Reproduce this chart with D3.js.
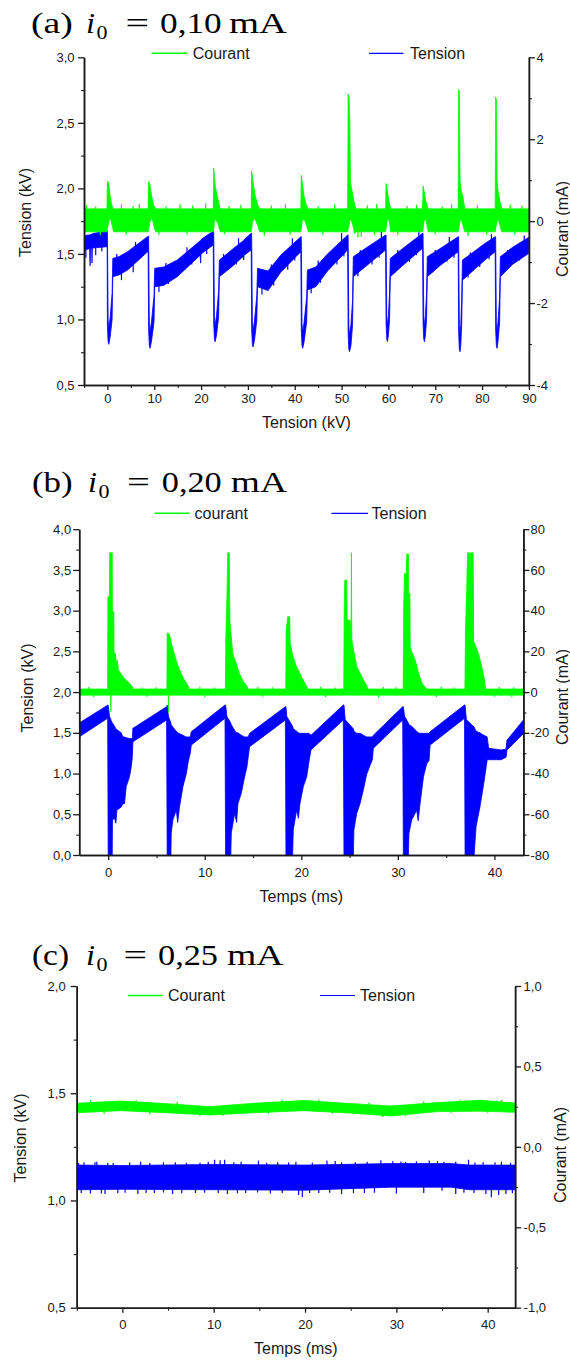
<!DOCTYPE html>
<html><head><meta charset="utf-8">
<script src="https://cdn.jsdelivr.net/npm/d3@7"></script>
<style>body{margin:0;background:#fff}svg{display:block}</style>
</head><body><svg id="c" width="570" height="1361"></svg>
<script>
// ===================== DATA =====================
// ---- Panel (a) ----
const aTitle = ["(a)", "i", "0", "=", "0,10", "mA"];
const aLegend = ["Courant", "Tension"];
const aXLabel = "Tension (kV)";
const aYLabelL = "Tension (kV)";
const aYLabelR = "Courant (mA)";
const aXTicks = [0,10,20,30,40,50,60,70,80,90];
const aXMinor = [-5,5,15,25,35,45,55,65,75,85];
const aLeftTicks = [0.5,1.0,1.5,2.0,2.5,3.0];
const aLeftMinor = [0.75,1.25,1.75,2.25,2.75];
const aRightTicks = [-4,-2,0,2,4];
const aRightMinor = [-3,-1,1,3];
// [time, low, high] envelope of the Tension trace (kV)
const aTension = [
 [-5,1.53,1.64],[-3.8,1.54,1.645],[-3.7,1.41,1.645],[-3.6,1.54,1.65],[-3.35,1.54,1.65],[-3.3,1.43,1.65],[-3.2,1.545,1.655],[-0.05,1.555,1.675],
 [0.0,0.95,1.675],[0.15,0.83,1.0],[0.3,0.81,0.93],[0.6,0.87,1.02],[1.0,1.0,1.2],[1.15,1.326,1.466],
 [2.5,1.34,1.48],[4.3,1.377,1.517],[8.7,1.52,1.635],
 [8.8,0.92,1.635],[8.95,0.8,0.97],[9.1,0.78,0.9],[9.4,0.83,0.98],[9.95,0.98,1.18],[10.1,1.25,1.39],
 [12.0,1.26,1.40],[14.9,1.326,1.453],[19.8,1.49,1.6],[19.9,1.43,1.6],[20.0,1.5,1.61],[22.6,1.568,1.675],
 [22.7,0.97,1.675],[22.85,0.85,1.02],[23.0,0.83,0.95],[23.3,0.88,1.03],[23.75,1.02,1.22],[23.9,1.326,1.453],
 [26.5,1.40,1.53],[29.0,1.48,1.6],[29.1,1.453,1.6],[29.2,1.49,1.61],[30.7,1.53,1.657],
 [30.8,0.93,1.657],[30.95,0.81,0.98],[31.1,0.79,0.91],[31.4,0.84,0.99],[31.9,0.99,1.18],[32.05,1.25,1.39],
 [34.3,1.22,1.37],[37.0,1.36,1.49],[41.3,1.517,1.631],
 [41.4,0.92,1.631],[41.55,0.8,0.97],[41.7,0.78,0.9],[42.0,0.83,0.98],[42.55,0.98,1.17],[42.7,1.225,1.377],
 [44.5,1.25,1.40],[47.0,1.37,1.5],[51.3,1.53,1.644],
 [51.4,0.9,1.644],[51.55,0.77,0.95],[51.7,0.754,0.88],[52.0,0.8,0.96],[52.35,0.96,1.15],[52.5,1.326,1.479],
 [55.0,1.40,1.54],[59.4,1.53,1.644],
 [59.5,0.97,1.644],[59.65,0.85,1.02],[59.8,0.83,0.95],[60.0,0.88,1.03],[60.25,1.0,1.2],[60.4,1.326,1.466],
 [63.0,1.41,1.54],[67.3,1.543,1.657],
 [67.4,0.97,1.657],[67.55,0.85,1.02],[67.7,0.83,0.95],[67.9,0.88,1.03],[68.15,1.0,1.2],[68.3,1.326,1.479],
 [71.0,1.41,1.54],[74.9,1.517,1.631],
 [75.0,0.9,1.631],[75.15,0.77,0.95],[75.3,0.754,0.88],[75.45,0.8,0.96],[75.65,0.96,1.15],[75.8,1.30,1.453],
 [78.0,1.37,1.51],[80.6,1.453,1.58],[82.8,1.517,1.631],
 [82.9,0.92,1.631],[83.05,0.8,0.97],[83.2,0.78,0.9],[83.4,0.83,0.98],[83.75,0.98,1.17],[83.9,1.326,1.479],
 [86.5,1.42,1.55],[90.0,1.505,1.627]
];
// [time, value] visible noise spikes of the Tension trace (kV)
const aTensionNoise = [
 [-4.6,1.47],[-2.5,1.49],[-1.2,1.52],[3.0,1.30],[5.5,1.36],[7.2,1.47],[11.0,1.21],[13.0,1.27],[16.5,1.38],[18.0,1.42],
 [21.2,1.50],[25.0,1.36],[27.5,1.42],[33.0,1.19],[35.5,1.26],[38.5,1.38],[40.0,1.45],[43.5,1.20],[45.5,1.28],[49.0,1.42],
 [50.5,1.48],[53.5,1.33],[56.5,1.42],[58.0,1.47],[61.5,1.36],[64.5,1.44],[66.0,1.49],[69.5,1.36],[72.5,1.44],[74.0,1.47],
 [77.0,1.32],[79.5,1.40],[81.5,1.46],[85.0,1.37],[88.0,1.45],
 [2.0,1.50],[6.0,1.59],[12.5,1.43],[17.0,1.55],[24.8,1.50],[28.0,1.62],[35.0,1.42],[39.5,1.62],[45.0,1.45],[50.0,1.66],
 [54.0,1.53],[58.5,1.67],[62.0,1.53],[66.5,1.67],[70.0,1.53],[73.0,1.63],[77.5,1.51],[82.0,1.65],[85.5,1.53],[89.0,1.64]
];
// [time, low, high] envelope of the Courant trace (mA)
const aCourant = [
 [-5,-0.26,0.30],[-0.1,-0.26,0.30],
 [0.0,-0.2,0.98],[0.3,0.0,0.9],[0.6,0.08,0.6],[1.0,-0.1,0.36],[1.3,-0.26,0.30],
 [8.7,-0.26,0.30],[8.8,-0.2,0.98],[9.1,0.0,0.88],[9.5,0.08,0.58],[9.9,-0.1,0.38],[10.3,-0.26,0.30],
 [22.6,-0.26,0.30],[22.7,-0.2,1.30],[22.85,0.0,1.1],[23.05,0.05,0.84],[23.55,-0.05,0.56],[24.1,-0.26,0.30],
 [30.7,-0.26,0.30],[30.8,-0.2,1.22],[31.0,0.0,1.05],[31.5,0.05,0.65],[32.1,-0.1,0.4],[32.5,-0.26,0.30],
 [41.3,-0.26,0.30],[41.4,-0.2,1.12],[41.6,0.0,0.95],[42.0,0.05,0.6],[42.5,-0.1,0.38],[42.9,-0.26,0.30],
 [51.3,-0.26,0.30],[51.4,-0.2,3.10],[51.6,-0.1,3.05],[51.75,0.0,2.5],[51.9,0.05,0.95],[52.3,-0.05,0.7],[52.8,-0.3,0.4],[53.1,-0.26,0.30],
 [59.4,-0.26,0.30],[59.5,-0.2,0.92],[59.7,0.0,0.8],[60.1,0.05,0.5],[60.5,-0.26,0.30],
 [67.3,-0.26,0.30],[67.4,-0.2,0.86],[67.6,0.0,0.75],[68.0,0.05,0.48],[68.5,-0.26,0.30],
 [74.9,-0.26,0.30],[75.0,-0.2,3.22],[75.15,-0.1,3.15],[75.3,0.0,1.0],[75.5,0.05,0.76],[75.9,-0.1,0.6],[76.3,-0.26,0.30],
 [82.8,-0.26,0.30],[82.9,-0.2,3.03],[83.05,-0.1,2.95],[83.2,0.0,1.0],[83.4,0.05,0.75],[83.8,-0.1,0.5],[84.2,-0.26,0.30],
 [90,-0.26,0.30]
];
// [time, value] visible noise spikes of the Courant trace (mA)
const aCourantNoise = [
 [-4.5,0.38],[-2.5,0.36],[3.0,0.40],[5.5,0.37],[6.8,0.42],[12.5,0.36],[15.5,0.41],[18.2,0.38],[21.0,0.44],
 [26.0,0.37],[28.5,0.40],[35.0,0.38],[38.0,0.41],[45.0,0.36],[48.5,0.40],[55.5,0.38],[57.5,0.42],[64.0,0.37],
 [66.0,0.40],[71.5,0.36],[73.5,0.41],[79.0,0.38],[86.0,0.40],[88.5,0.37],
 [-1.5,-0.33],[4.0,-0.32],[11.0,-0.34],[17.0,-0.33],[25.0,-0.32],[33.5,-0.35],[39.0,-0.33],[46.0,-0.34],
 [53.5,-0.40],[54.2,-0.38],[57.0,-0.33],[62.0,-0.34],[70.0,-0.32],[77.0,-0.36],[81.0,-0.33],[87.0,-0.34]
];

// ---- Panel (b) ----
const bTitle = ["(b)", "i", "0", "=", "0,20", "mA"];
const bLegend = ["courant", "Tension"];
const bXLabel = "Temps (ms)";
const bYLabelL = "Tension (kV)";
const bYLabelR = "Courant (mA)";
const bXTicks = [0,10,20,30,40];
const bXMinor = [5,15,25,35];
const bLeftTicks = [0.0,0.5,1.0,1.5,2.0,2.5,3.0,3.5,4.0];
const bLeftMinor = [0.25,0.75,1.25,1.75,2.25,2.75,3.25,3.75];
const bRightTicks = [-80,-60,-40,-20,0,20,40,60,80];
const bRightMinor = [-70,-50,-30,-10,10,30,50,70];
const bTension = [
 [-3,1.45,1.62],[-0.05,1.68,1.84],
 [0.0,0.0,1.84],[0.15,0.0,1.70],[0.42,0.0,1.62],[0.45,0.43,1.62],[0.66,0.45,1.58],[0.8,0.39,1.55],[0.9,0.55,1.54],
 [1.35,0.59,1.50],[1.52,0.63,1.45],[1.69,0.63,1.45],[1.87,0.84,1.44],[2.21,0.96,1.43],[2.39,1.08,1.43],[2.5,1.20,1.43],
 [2.56,1.39,1.555],[6.05,1.657,1.821],
 [6.11,0.0,1.84],[6.25,0.0,1.70],[6.5,0.0,1.62],[6.53,0.27,1.60],[6.7,0.43,1.57],[7.05,0.55,1.52],[7.2,0.40,1.50],
 [7.39,0.59,1.49],[7.74,0.84,1.47],[8.08,0.99,1.45],[8.3,1.15,1.45],[8.5,1.25,1.45],
 [8.61,1.35,1.514],[12.1,1.678,1.842],
 [12.16,0.0,1.842],[12.3,0.0,1.70],[12.7,0.0,1.62],[12.75,0.27,1.60],[13.1,0.51,1.53],[13.3,0.40,1.50],[13.44,0.63,1.50],
 [13.79,0.76,1.47],[14.13,0.96,1.45],[14.37,1.08,1.45],[14.5,1.20,1.45],
 [14.65,1.33,1.494],[18.35,1.657,1.821],
 [18.41,0.0,1.821],[18.5,0.0,1.70],[19.1,0.0,1.58],[19.17,0.31,1.55],[19.52,0.55,1.52],[19.7,0.45,1.50],[19.86,0.63,1.494],
 [20.21,0.84,1.494],[20.56,0.96,1.494],[20.8,1.15,1.494],
 [21.0,1.29,1.47],[24.35,1.657,1.842],
 [24.42,0.0,1.842],[24.55,0.0,1.66],[25.39,0.0,1.55],[25.45,0.31,1.52],[25.74,0.51,1.494],[26.08,0.63,1.494],
 [26.43,0.80,1.47],[26.77,0.99,1.45],[27.12,1.10,1.45],[27.36,1.17,1.45],
 [27.46,1.31,1.47],[30.5,1.657,1.821],
 [30.57,0.0,1.821],[30.7,0.0,1.70],[31.09,0.0,1.62],[31.15,0.27,1.60],[31.43,0.43,1.58],[31.95,0.55,1.52],[32.1,0.42,1.50],
 [32.3,0.63,1.494],[32.65,0.96,1.494],[32.99,1.12,1.494],[33.23,1.16,1.494],
 [33.34,1.35,1.514],[36.9,1.678,1.842],
 [36.96,0.0,1.842],[37.1,0.0,1.66],[37.9,0.0,1.57],[38.1,0.35,1.52],[38.5,0.59,1.50],[38.9,0.88,1.47],[39.25,1.17,1.45],
 [39.4,1.17,1.31],[40.7,1.17,1.29],[41.2,1.20,1.30],[41.3,1.29,1.41],[43.0,1.49,1.657]
];
const bCourant = [
 [-3,-1.5,1.5],[-0.05,-1.5,1.5],
 [-0.03,-1.5,46.8],[0.14,-1.5,46.8],[0.16,-1.5,68.4],[0.26,-1.5,68.4],[0.28,-9.6,68.4],[0.3,-1.5,68.4],[0.42,-1.5,68.4],
 [0.44,-1.5,39.5],[0.59,-1.5,39.5],[0.61,-1.5,19],[0.76,-1.5,19],[0.85,-1.5,14],[0.95,-1.5,15.8],[1.05,-1.5,11],
 [1.2,-1.5,10],[1.52,-1.5,7.6],[1.87,-1.5,5.9],[2.21,-1.5,4.3],[2.49,-1.5,2.7],[2.6,-1.5,1.5],
 [6.08,-1.5,1.5],[6.11,-1.5,28.9],[6.23,-1.5,28.9],[6.25,-10,28.9],[6.27,-1.5,28.9],[6.43,-1.5,27],[6.6,-1.5,23],
 [6.9,-1.5,18],[7.22,-1.5,13],[7.55,-1.5,9.2],[7.9,-1.5,5.9],[8.25,-1.5,3.5],[8.36,-1.5,1.5],
 [12.14,-1.5,1.5],[12.18,-1.5,25.6],[12.3,-1.5,46.8],[12.38,-1.5,68.4],[12.55,-1.5,68.4],[12.6,-1.5,35],[12.75,-1.5,27.2],
 [12.9,-1.5,19],[13.27,-1.5,14],[13.6,-1.5,9],[13.96,-1.5,5.5],[14.3,-1.5,3.5],[14.48,-1.5,1.5],
 [18.39,-1.5,1.5],[18.43,-1.5,29.6],[18.6,-1.5,37],[18.8,-1.5,37],[18.85,-1.5,24],[19.1,-1.5,18.2],[19.5,-1.5,12.5],
 [19.85,-1.5,9.2],[20.2,-1.5,5.9],[20.55,-1.5,2.7],[20.7,-1.5,1.5],
 [24.4,-1.5,1.5],[24.44,-1.5,40],[24.5,-1.5,55],[24.7,-1.5,55],[24.75,-1.5,35.4],[25.05,-1.5,35.4],[25.15,-1.5,28],
 [25.19,-1.5,68.4],[25.23,-1.5,26],[25.4,-1.5,20.7],[25.75,-1.5,12.5],[26.1,-1.5,9.2],[26.45,-1.5,5.9],[26.8,-1.5,3],[26.88,-1.5,1.5],
 [30.55,-1.5,1.5],[30.6,-1.5,40],[30.68,-1.5,58.3],[30.9,-1.5,58.3],[30.92,-1.5,67.8],[31.1,-1.5,67.8],[31.12,-1.5,48.6],
 [31.25,-1.5,48.6],[31.28,-1.5,22.3],[31.43,-1.5,19.9],[31.8,-1.5,15.8],[32.15,-1.5,9.2],[32.5,-1.5,4.3],[33.0,-1.5,1.5],
 [36.94,-1.5,1.5],[37.0,-1.5,30],[37.14,-1.5,51.8],[37.22,-1.5,68.4],[37.4,-1.5,68.4],[37.45,-1.5,52],[37.5,-1.5,68.4],
 [37.8,-1.5,68.4],[37.85,-1.5,25],[38.35,-1.5,19],[38.6,-1.5,14],[38.9,-1.5,8],[39.05,-1.5,3],[39.1,-1.5,1.5],
 [43,-1.5,1.5]
];
const bCourantNoise = [
 [-2,2.5],[3.5,2.3],[5,2.4],[9.5,2.6],[11,2.3],[15.5,2.5],[17,2.4],[22,2.6],[23.5,2.3],[28.5,2.5],[29.8,2.4],
 [34.5,2.6],[35.8,2.3],[40.5,2.5],[42,2.4],
 [-1.5,-2.4],[4,-2.3],[10,-2.5],[16,-2.3],[22.5,-2.4],[28,-2.6],[34,-2.4],[40,-2.3],[41.8,-2.5]
];

// ---- Panel (c) ----
const cTitle = ["(c)", "i", "0", "=", "0,25", "mA"];
const cLegend = ["Courant", "Tension"];
const cXLabel = "Temps (ms)";
const cYLabelL = "Tension (kV)";
const cYLabelR = "Courant (mA)";
const cXTicks = [0,10,20,30,40];
const cXMinor = [-5,5,15,25,35];
const cLeftTicks = [0.5,1.0,1.5,2.0];
const cLeftMinor = [0.75,1.25,1.75];
const cRightTicks = [-1.0,-0.5,0.0,0.5,1.0];
const cRightMinor = [-0.75,-0.25,0.25,0.75];
const cTension = [
 [-5,1.05,1.165],[0,1.052,1.163],[10,1.05,1.168],[20,1.048,1.165],[29.5,1.062,1.172],[36,1.062,1.172],[38,1.05,1.165],[43,1.05,1.165]
];
const cTensionNoise = [
 [-4.2,1.178],[-2.8,1.18],[-1.0,1.175],[2.0,1.18],[4.5,1.178],[7.0,1.176],[10.1,1.19],[10.7,1.188],[11.2,1.19],
 [13.0,1.18],[14.9,1.186],[17.0,1.178],[19.0,1.18],[22.4,1.186],[23.3,1.184],[25.5,1.178],[28.3,1.188],[31.0,1.18],
 [33.6,1.186],[35.2,1.18],[37.9,1.19],[39.5,1.178],[41.5,1.18],
 [-4.8,1.175],[-3.0,1.178],[-1.6,1.176],[0.8,1.177],[3.0,1.175],[5.8,1.178],[8.5,1.176],[9.4,1.18],[12.2,1.178],
 [15.8,1.176],[18.2,1.177],[20.8,1.176],[24.0,1.178],[26.8,1.18],[29.6,1.183],[30.5,1.182],[32.2,1.182],[34.5,1.183],
 [36.5,1.181],[38.6,1.177],[40.8,1.178],[42.5,1.176],
 [-3.5,1.032],[-1.9,1.03],[-0.5,1.035],[1.7,1.03],[3.5,1.035],[5.5,1.03],[8.0,1.035],[11.5,1.03],[13.5,1.035],
 [16.2,1.033],[19.7,1.015],[21.5,1.035],[24.0,1.03],[26.5,1.035],[30.0,1.033],[33.0,1.035],[36.5,1.03],[38.5,1.035],
 [40.4,1.015],[42.0,1.03],
 [-4.5,1.035],[-2.3,1.033],[0.3,1.036],[2.6,1.035],[4.5,1.037],[6.5,1.034],[9.0,1.036],[10.5,1.035],[12.6,1.034],
 [14.8,1.037],[17.5,1.035],[19.3,1.025],[20.5,1.035],[22.7,1.036],[25.3,1.034],[27.6,1.036],[35.0,1.045],[37.4,1.036],
 [39.8,1.03],[41.2,1.025],[42.7,1.034]
];
const cCourant = [
 [-5,0.212,0.271],[-0.2,0.225,0.285],[4.15,0.214,0.271],[9.6,0.198,0.250],[14.4,0.212,0.271],[19.9,0.225,0.288],
 [25.3,0.209,0.268],[29.4,0.192,0.254],[34.5,0.219,0.275],[39.2,0.222,0.29],[43,0.215,0.272]
];
const cCourantNoise = [
 [-3.5,0.29],[1.5,0.292],[6.0,0.28],[12.0,0.262],[17.5,0.293],[21.5,0.293],[27.0,0.276],[33.0,0.283],[37.0,0.293],[41.5,0.292],
 [-2.0,0.205],[3.0,0.203],[8.5,0.19],[11.0,0.192],[16.0,0.205],[23.0,0.205],[28.5,0.185],[31.0,0.19],[36.0,0.21],[40.0,0.212]
];

// ===================== DRAWING =====================
const BLUE = "#0000ff", GREEN = "#00ff00", INK = "#1a1a1a";
const SANS = "'Liberation Sans', Arial, sans-serif";
const SERIF = "'Liberation Serif', 'Times New Roman', serif";
const comma1 = d => d.toFixed(1).replace(".", ",");
const plain = d => String(d);
const svg = d3.select("#c");
svg.append("rect").attr("width", 570).attr("height", 1361).attr("fill", "#fff");

const panels = [
 {key:"a", left:84, right:528.9, top:57.3, bottom:385, xDomain:[-5,90], leftDomain:[0.5,3.0], rightDomain:[-4,4],
  xTicks:aXTicks, xMinor:aXMinor, leftTicks:aLeftTicks, leftMinor:aLeftMinor, rightTicks:aRightTicks, rightMinor:aRightMinor,
  leftFmt:comma1, rightFmt:plain, lpad:3.5, rpad:1.5, bpad:3.3,
  tension:aTension, tensionNoise:aTensionNoise, courant:aCourant, courantNoise:aCourantNoise,
  title:aTitle, titleY:33, titleX:[30.9,86,96.5,125.4,160,229], titleW:[41.8,9,11,23.6,61.7,58],
  legend:aLegend, legendY:53.3, legendX:[151.6,187.2,192.7,369,403.5,410],
  xLabel:aXLabel, xLabelY:428, yLabelL:aYLabelL, yLL:[31,212.5], yLabelR:aYLabelR, yLR:[567.5,229]},
 {key:"b", left:79.2, right:523.4, top:529.2, bottom:855, xDomain:[-3,43], leftDomain:[0,4], rightDomain:[-80,80],
  xTicks:bXTicks, xMinor:bXMinor, leftTicks:bLeftTicks, leftMinor:bLeftMinor, rightTicks:bRightTicks, rightMinor:bRightMinor,
  leftFmt:comma1, rightFmt:plain, lpad:2, rpad:1, bpad:8,
  tension:bTension, courant:bCourant, courantNoise:bCourantNoise,
  title:bTitle, titleY:492, titleX:[32,88,98.5,127,161.8,230.8], titleW:[40.7,9,11,23,59.9,56.2],
  legend:bLegend, legendY:513.3, legendX:[154.5,189.7,194.5,331.5,368,371.5],
  xLabel:bXLabel, xLabelY:902, yLabelL:bYLabelL, yLL:[33,688], yLabelR:bYLabelR, yLR:[568,697]},
 {key:"c", left:76.7, right:515.1, top:986, bottom:1307.7, xDomain:[-5,43], leftDomain:[0.5,2.0], rightDomain:[-1,1],
  xTicks:cXTicks, xMinor:cXMinor, leftTicks:cLeftTicks, leftMinor:cLeftMinor, rightTicks:cRightTicks, rightMinor:cRightMinor,
  leftFmt:comma1, rightFmt:comma1, lpad:5, rpad:2.5, bpad:7.3,
  tension:cTension, tensionNoise:cTensionNoise, courant:cCourant, courantNoise:cCourantNoise,
  title:cTitle, titleY:965, titleX:[32,86,96.5,123.6,158,227], titleW:[37,9,11,23.6,60,56.5],
  legend:cLegend, legendY:995.5, legendX:[128,162.5,168,320,355,360],
  xLabel:cXLabel, xLabelY:1354, yLabelL:cYLabelL, yLL:[26,1138], yLabelR:cYLabelR, yLR:[566,1155]}
];

// middle of an envelope at time t (linear between listed points)
function midAt(env, t) {
  const i = d3.bisector(d => d[0]).right(env, t);
  if (i <= 0) return (env[0][1] + env[0][2]) / 2;
  if (i >= env.length) { const e = env[env.length - 1]; return (e[1] + e[2]) / 2; }
  const a = env[i - 1], b = env[i], f = (t - a[0]) / (b[0] - a[0]);
  return ((a[1] + a[2]) / 2) * (1 - f) + ((b[1] + b[2]) / 2) * f;
}

function styleAxis(sel, major) {
  sel.select(".domain").attr("stroke", INK).attr("stroke-width", 1.5);
  sel.selectAll(".tick line").attr("stroke", INK).attr("stroke-width", major ? 1.3 : 1.1);
  sel.selectAll(".tick text").attr("fill", INK).attr("font-family", SANS).attr("font-size", 13);
  sel.attr("font-family", null).attr("font-size", null);
}

panels.forEach(p => {
  const g = svg.append("g");
  const x = d3.scaleLinear().domain(p.xDomain).range([p.left, p.right]);
  const yL = d3.scaleLinear().domain(p.leftDomain).range([p.bottom, p.top]);
  const yR = d3.scaleLinear().domain(p.rightDomain).range([p.bottom, p.top]);

  const clipId = "clip-" + p.key;
  svg.append("clipPath").attr("id", clipId).append("rect")
    .attr("x", p.left).attr("y", p.top - 1).attr("width", p.right - p.left).attr("height", p.bottom - p.top + 1);
  const plot = g.append("g").attr("clip-path", `url(#${clipId})`);

  const areaT = d3.area().x(d => x(d[0])).y0(d => yL(d[1])).y1(d => yL(d[2]));
  const areaC = d3.area().x(d => x(d[0])).y0(d => yR(d[1])).y1(d => yR(d[2]));

  plot.append("path").datum(p.tension).attr("d", areaT)
    .attr("fill", BLUE).attr("stroke", BLUE).attr("stroke-width", 0.8).attr("stroke-linejoin", "round");
  if (p.tensionNoise) {
    plot.selectAll(null).data(p.tensionNoise).join("line")
      .attr("x1", d => x(d[0])).attr("x2", d => x(d[0]))
      .attr("y1", d => yL(midAt(p.tension, d[0]))).attr("y2", d => yL(d[1]))
      .attr("stroke", BLUE).attr("stroke-width", 1.2);
  }
  plot.append("path").datum(p.courant).attr("d", areaC)
    .attr("fill", GREEN).attr("stroke", GREEN).attr("stroke-width", 0.8).attr("stroke-linejoin", "round");
  if (p.courantNoise) {
    plot.selectAll(null).data(p.courantNoise).join("line")
      .attr("x1", d => x(d[0])).attr("x2", d => x(d[0]))
      .attr("y1", d => yR(midAt(p.courant, d[0]))).attr("y2", d => yR(d[1]))
      .attr("stroke", GREEN).attr("stroke-width", 1.2);
  }

  // axes
  const axL = g.append("g").attr("transform", `translate(${p.left},0)`)
    .call(d3.axisLeft(yL).tickValues(p.leftTicks).tickFormat(p.leftFmt).tickSize(6).tickSizeOuter(0).tickPadding(p.lpad));
  styleAxis(axL, true);
  const axLm = g.append("g").attr("transform", `translate(${p.left},0)`)
    .call(d3.axisLeft(yL).tickValues(p.leftMinor).tickFormat("").tickSize(3).tickSizeOuter(0));
  styleAxis(axLm, false);

  const axR = g.append("g").attr("transform", `translate(${p.right},0)`)
    .call(d3.axisRight(yR).tickValues(p.rightTicks).tickFormat(p.rightFmt).tickSize(6).tickSizeOuter(0).tickPadding(p.rpad));
  styleAxis(axR, true);
  const axRm = g.append("g").attr("transform", `translate(${p.right},0)`)
    .call(d3.axisRight(yR).tickValues(p.rightMinor).tickFormat("").tickSize(3).tickSizeOuter(0));
  styleAxis(axRm, false);

  const axB = g.append("g").attr("transform", `translate(0,${p.bottom})`)
    .call(d3.axisBottom(x).tickValues(p.xTicks).tickFormat(plain).tickSize(5).tickSizeOuter(0).tickPadding(p.bpad));
  styleAxis(axB, true);
  const axBm = g.append("g").attr("transform", `translate(0,${p.bottom})`)
    .call(d3.axisBottom(x).tickValues(p.xMinor).tickFormat("").tickSize(3).tickSizeOuter(0));
  styleAxis(axBm, false);

  // axis titles
  g.append("text").attr("x", (p.left + p.right) / 2).attr("y", p.xLabelY)
    .attr("text-anchor", "middle").attr("font-family", SANS).attr("font-size", 16).attr("fill", INK).text(p.xLabel);
  g.append("text").attr("transform", `translate(${p.yLL[0]},${p.yLL[1]}) rotate(-90)`)
    .attr("text-anchor", "middle").attr("font-family", SANS).attr("font-size", 16).attr("fill", INK).text(p.yLabelL);
  g.append("text").attr("transform", `translate(${p.yLR[0]},${p.yLR[1]}) rotate(-90)`)
    .attr("text-anchor", "middle").attr("font-family", SANS).attr("font-size", 16).attr("fill", INK).text(p.yLabelR);

  // legend
  const lx = p.legendX;
  g.append("line").attr("x1", lx[0]).attr("x2", lx[1]).attr("y1", p.legendY).attr("y2", p.legendY)
    .attr("stroke", GREEN).attr("stroke-width", 1.4);
  g.append("text").attr("x", lx[2]).attr("y", p.legendY + 5.5).attr("font-family", SANS).attr("font-size", 16)
    .attr("fill", INK).text(p.legend[0]);
  g.append("line").attr("x1", lx[3]).attr("x2", lx[4]).attr("y1", p.legendY).attr("y2", p.legendY)
    .attr("stroke", BLUE).attr("stroke-width", 1.2);
  g.append("text").attr("x", lx[5]).attr("y", p.legendY + 5.5).attr("font-family", SANS).attr("font-size", 16)
    .attr("fill", INK).text(p.legend[1]);

  // title: "(a) i_0 = 0,10 mA"
  p.title.forEach((s, i) => {
    const isI = i === 1, isSub = i === 2;
    g.append("text").attr("x", p.titleX[i]).attr("y", p.titleY + (isSub ? 5.5 : 0))
      .attr("font-family", SERIF).attr("font-size", isSub ? 19 : 29)
      .attr("font-style", isI ? "italic" : "normal").attr("fill", "#000")
      .attr("textLength", p.titleW[i]).attr("lengthAdjust", "spacingAndGlyphs").text(s);
  });
});
</script></body></html>
